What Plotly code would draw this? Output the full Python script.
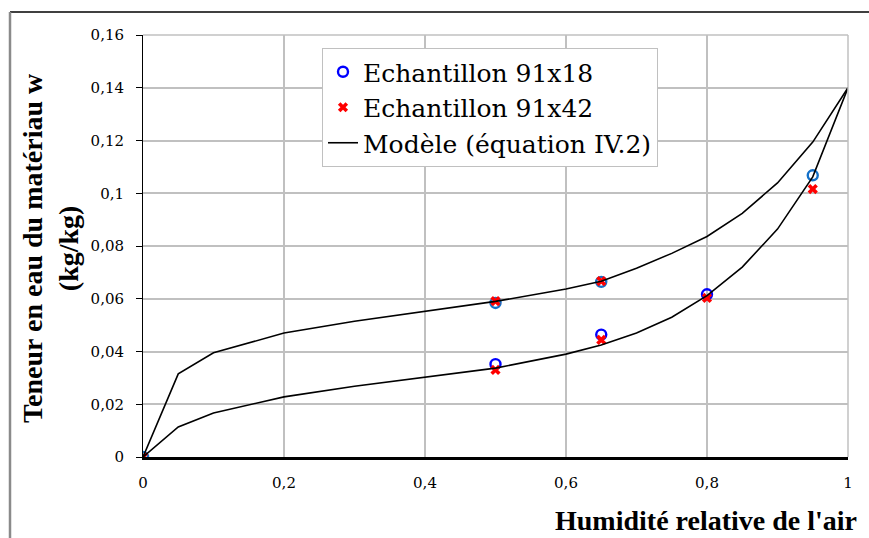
import plotly.graph_objects as go

# Model curves (équation IV.2)
model_x = [0, 0.05, 0.1, 0.2, 0.3, 0.4, 0.5, 0.6, 0.65, 0.7, 0.75, 0.8, 0.85, 0.9, 0.95, 1.0]
model_desorption = [0, 0.0315, 0.0395, 0.047, 0.0515, 0.0553, 0.059, 0.0637, 0.0666, 0.0716, 0.0772, 0.0836, 0.0924, 0.1039, 0.1194, 0.14]
model_adsorption = [0, 0.0114, 0.0167, 0.0228, 0.0268, 0.0302, 0.0337, 0.039, 0.0425, 0.047, 0.053, 0.0612, 0.072, 0.0864, 0.1062, 0.14]

# Echantillon 91x18 (circles)
e18_ads_x = [0.5, 0.65, 0.8]
e18_ads_y = [0.0352, 0.0464, 0.0617]
e18_des_x = [0, 0.5, 0.65, 0.95]
e18_des_y = [0, 0.0584, 0.0664, 0.1068]

# Echantillon 91x42 (crosses)
e42_x = [0, 0.5, 0.65, 0.8, 0.5, 0.65, 0.95]
e42_y = [0, 0.033, 0.0444, 0.0603, 0.0591, 0.0667, 0.1016]

legend_names = ["Echantillon 91x18", "Echantillon 91x42", "Modèle (équation IV.2)"]

serif_bold = "Liberation Serif"
serif_reg = "DejaVu Serif"

fig = go.Figure()
fig.add_trace(go.Scatter(x=e18_ads_x, y=e18_ads_y, mode="markers", name=legend_names[0],
                         marker=dict(symbol="circle-open", size=10, color="#0000FF", line=dict(width=2.4, color="#0000FF"))))
fig.add_trace(go.Scatter(x=e18_des_x, y=e18_des_y, mode="markers", name="Echantillon 91x18 (d)", showlegend=False,
                         marker=dict(symbol="circle-open", size=10, color="#1470C8", line=dict(width=2.4, color="#1470C8"))))
fig.add_trace(go.Scatter(x=e42_x, y=e42_y, mode="markers", name=legend_names[1],
                         marker=dict(symbol="x", size=9, color="#FF0000", line=dict(width=0))))
fig.add_trace(go.Scatter(x=model_x + [None] + model_x, y=model_desorption + [None] + model_adsorption,
                         mode="lines", name=legend_names[2], line=dict(color="black", width=1.6)))

L, T, R, B = 143, 35, 848, 457
W, H = 869, 538

def px(xp):
    return (xp - L) / (R - L)

def py(yp):
    return (B - yp) / (B - T)

shapes = [
    dict(type="line", xref="paper", yref="paper", x0=0, x1=1, y0=1, y1=1, line=dict(color="#c0c0c0", width=1.5)),
    dict(type="line", xref="paper", yref="paper", x0=1, x1=1, y0=0, y1=1, line=dict(color="#c0c0c0", width=1.5)),
    dict(type="line", xref="paper", yref="paper", x0=px(10), x1=px(880), y0=py(12), y1=py(12), line=dict(color="#404040", width=2)),
    dict(type="line", xref="paper", yref="paper", x0=px(10), x1=px(10), y0=py(12), y1=py(560), line=dict(color="#8a8a8a", width=2.5)),
]

annotations = [
    dict(text="<b>Humidité relative de l'air</b>", xref="paper", yref="paper", x=px(859), y=py(520),
         xanchor="right", yanchor="middle", showarrow=False, font=dict(family=serif_bold, size=28, color="black")),
    dict(text="<b>Teneur en eau du matériau w<br>(kg/kg)</b>", xref="paper", yref="paper", x=px(51), y=py(248),
         xanchor="center", yanchor="middle", textangle=-90, showarrow=False,
         font=dict(family=serif_bold, size=28, color="black")),
]

fig.update_layout(
    width=W, height=H,
    margin=dict(l=L, r=W - R, t=T, b=H - B, autoexpand=False),
    paper_bgcolor="white", plot_bgcolor="white",
    separators=", ",
    font=dict(family=serif_reg, color="black"),
    showlegend=True,
    legend=dict(x=px(322), y=py(48), xanchor="left", yanchor="top", bgcolor="white",
                bordercolor="#c0c0c0", borderwidth=1, font=dict(family=serif_reg, size=25, color="black"),
                itemwidth=30, tracegroupgap=0),
    shapes=shapes,
    annotations=annotations,
)
fig.update_xaxes(range=[0, 1], dtick=0.2, tick0=0, showgrid=True, gridcolor="#c0c0c0", gridwidth=1.5,
                 showline=True, linecolor="black", linewidth=2.5, zeroline=False, ticks="",
                 tickfont=dict(family=serif_reg, size=15, color="black"), ticklabelstandoff=10)
fig.update_yaxes(range=[0, 0.16], dtick=0.02, tick0=0, showgrid=True, gridcolor="#c0c0c0", gridwidth=1.5,
                 showline=True, linecolor="black", linewidth=1, zeroline=False, ticks="outside",
                 ticklen=6, tickcolor="black", tickwidth=1,
                 tickfont=dict(family=serif_reg, size=15, color="black"), ticklabelstandoff=9)

fig.write_html("out.html", config={"displayModeBar": False},
               post_script="document.body.style.margin='0';document.body.style.overflow='hidden';")
